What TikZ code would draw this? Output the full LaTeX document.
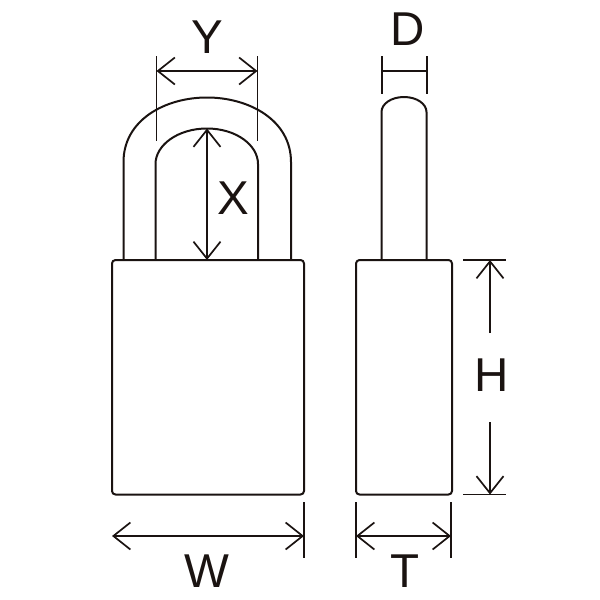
\documentclass[tikz,border=0pt]{standalone}
\usepackage{fontspec}
\setmainfont{Liberation Sans}
\usetikzlibrary{arrows.meta}
\definecolor{ink}{HTML}{1A1311}
\tikzset{
  outline/.style={draw=ink,line width=2pt,line join=round},
  extline/.style={draw=ink,line width=1.7pt},
  dimline/.style={draw=ink,line width=1.7pt,{Straight Barb[length=17pt,width=27pt,line width=1.7pt]}-{Straight Barb[length=17pt,width=27pt,line width=1.7pt]}},
  halfdim/.style={draw=ink,line width=1.7pt,-{Straight Barb[length=17pt,width=27pt,line width=1.7pt]}},
  plaindim/.style={draw=ink,line width=1.7pt},
  dimlabel/.style={text=ink,inner sep=0pt,font=\fontsize{47.5}{47.5}\selectfont}
}
\begin{document}
\begin{tikzpicture}[x=1pt,y=-1pt]
\useasboundingbox (0,0) rectangle (600,600);
% body front
\draw[outline,rounded corners=3.5pt] (112,260) rectangle (304,494.5);
% shackle front
\draw[outline] (123.5,260) -- (123.5,162) .. controls (123.5,120) and (165,97.5) .. (207,97.5) .. controls (249,97.5) and (291,120) .. (291,162) -- (291,260);
\draw[outline] (155.5,260) -- (155.5,164) .. controls (155.5,145) and (178,128.5) .. (207,128.5) .. controls (236,128.5) and (258,145) .. (258,164) -- (258,260);
% body side
\draw[outline,rounded corners=3.5pt] (356,260) rectangle (452,494.5);
% shackle side
\draw[outline] (381.5,260) -- (381.5,112) .. controls (381.5,104) and (391,97) .. (404,97) .. controls (417,97) and (426.5,104) .. (426.5,112) -- (426.5,260);
% extension lines
\coordinate (ya) at (156.5,56); \coordinate (yb) at (156.5,141);
\coordinate (yc) at (257.5,56); \coordinate (yd) at (257.5,141);
\draw[extline] (ya) -- (yb); \draw[extline] (yc) -- (yd);
\coordinate (da) at (382,56); \coordinate (db) at (382,94);
\coordinate (dc) at (427,56); \coordinate (dd) at (427,94);
\draw[extline] (da) -- (db); \draw[extline] (dc) -- (dd);
\coordinate (ha) at (463,260); \coordinate (hb) at (506,260);
\coordinate (hc) at (463,494.5); \coordinate (hd) at (506,494.5);
\draw[extline] (ha) -- (hb); \draw[extline] (hc) -- (hd);
\coordinate (wa) at (304,502); \coordinate (wb) at (304,558);
\draw[extline] (wa) -- (wb);
\coordinate (ta) at (356,502); \coordinate (tb) at (356,558);
\coordinate (tc) at (451,502); \coordinate (td) at (451,558);
\draw[extline] (ta) -- (tb); \draw[extline] (tc) -- (td);
% labels
\node[dimlabel] (Y) at (207,37.5) {Y};
\node[dimlabel] (X) at (233.5,198) {X};
\node[dimlabel] (D) at (408,29.5) {D};
\node[dimlabel] (H) at (491.5,375.5) {H};
\node[dimlabel] (W) at (207,571) {W};
\node[dimlabel] (T) at (405,571) {T};
% dimension lines
\coordinate (y1) at (156.5,71); \coordinate (y2) at (257.5,71);
\draw[dimline] (y1) -- (y2);
\coordinate (x1) at (207,128.5); \coordinate (x2) at (207,260);
\draw[dimline] (x1) -- (x2);
\coordinate (d1) at (382,71); \coordinate (d2) at (427,71);
\draw[plaindim] (d1) -- (d2);
\coordinate (h1) at (490,333); \coordinate (h2) at (490,260);
\coordinate (h3) at (490,422); \coordinate (h4) at (490,494.5);
\draw[halfdim] (h1) -- (h2);
\draw[halfdim] (h3) -- (h4);
\coordinate (w1) at (112,536); \coordinate (w2) at (304,536);
\draw[dimline] (w1) -- (w2);
\coordinate (t1) at (356,536); \coordinate (t2) at (451,536);
\draw[dimline] (t1) -- (t2);
\end{tikzpicture}
\end{document}
